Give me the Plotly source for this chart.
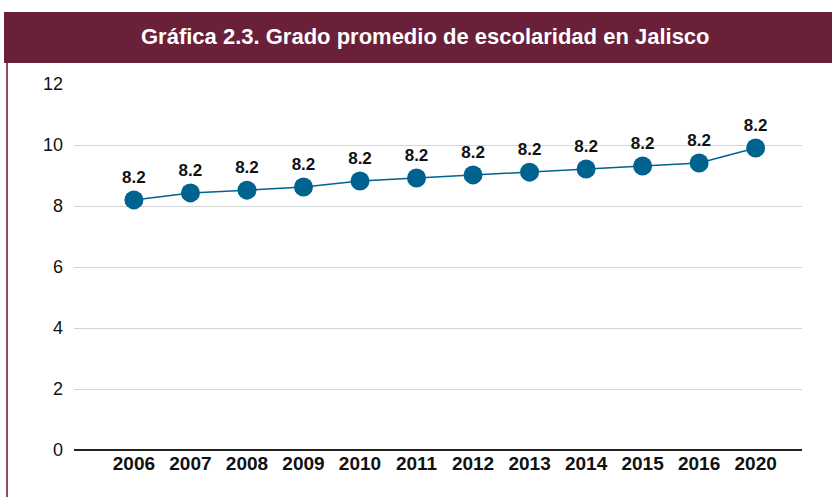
import plotly.graph_objects as go

years = ["2006", "2007", "2008", "2009", "2010", "2011", "2012", "2013", "2014", "2015", "2016", "2020"]
values = [8.2, 8.43, 8.52, 8.62, 8.82, 8.92, 9.02, 9.11, 9.21, 9.31, 9.41, 9.9]
labels = ["8.2"] * 12
yticks = [0, 2, 4, 6, 8, 10, 12]
title = "Gráfica 2.3. Grado promedio de escolaridad en Jalisco"

NARROW = "Liberation Sans Narrow, Arial Narrow, Liberation Sans, sans-serif"
MAROON = "#6A2039"

W, H = 832, 497
ml, mt = 74, 84
plot_right, plot_bottom = 802, 450
mr, mb = W - plot_right, H - plot_bottom
pw, ph = W - ml - mr, H - mt - mb

def px(x):
    return (x - ml) / pw

def py(y):
    return (plot_bottom - y) / ph

fig = go.Figure()
fig.add_trace(go.Scatter(
    x=list(range(len(years))), y=values, mode="lines+markers+text",
    text=labels, textposition="top center",
    textfont=dict(family=NARROW, size=17, color="#111111", weight="bold"),
    line=dict(color="#00628F", width=1.5),
    marker=dict(color="#00628F", size=19),
    cliponaxis=False, showlegend=False, hoverinfo="skip",
))

fig.update_layout(
    width=W, height=H,
    margin=dict(l=ml, r=mr, t=mt, b=mb),
    paper_bgcolor="white", plot_bgcolor="white",
    xaxis=dict(
        range=[-1.06, 11.82], tickmode="array",
        tickvals=list(range(len(years))), ticktext=years,
        showgrid=False, zeroline=False, showline=False, ticks="",
        tickfont=dict(family=NARROW, size=19, color="#111111", weight="bold"),
    ),
    yaxis=dict(
        range=[0, 12], tickmode="array", tickvals=yticks,
        ticktext=[str(v) for v in yticks],
        showgrid=True, gridcolor="#d4d4d4", gridwidth=1,
        zeroline=True, zerolinecolor="#222222", zerolinewidth=1.5,
        showline=False, ticks="", ticklabelstandoff=10,
        tickfont=dict(family="Liberation Sans, Arial, sans-serif", size=18, color="#111111"),
    ),
    shapes=[
        dict(type="rect", xref="paper", yref="paper",
             x0=px(4), x1=px(832), y0=py(63), y1=py(12),
             fillcolor=MAROON, line=dict(width=0), layer="below"),
        dict(type="line", xref="paper", yref="paper",
             x0=px(7), x1=px(7), y0=py(63), y1=py(497),
             line=dict(color="#8E4C66", width=2)),
    ],
    annotations=[
        dict(text="<b>" + title + "</b>", xref="paper", yref="paper",
             x=px(425), y=py(37), xanchor="center", yanchor="middle",
             showarrow=False,
             font=dict(family=NARROW, size=22, color="white")),
    ],
)

fig.write_html("out.html", config={"displayModeBar": False},
               post_script="document.body.style.margin='0';")
